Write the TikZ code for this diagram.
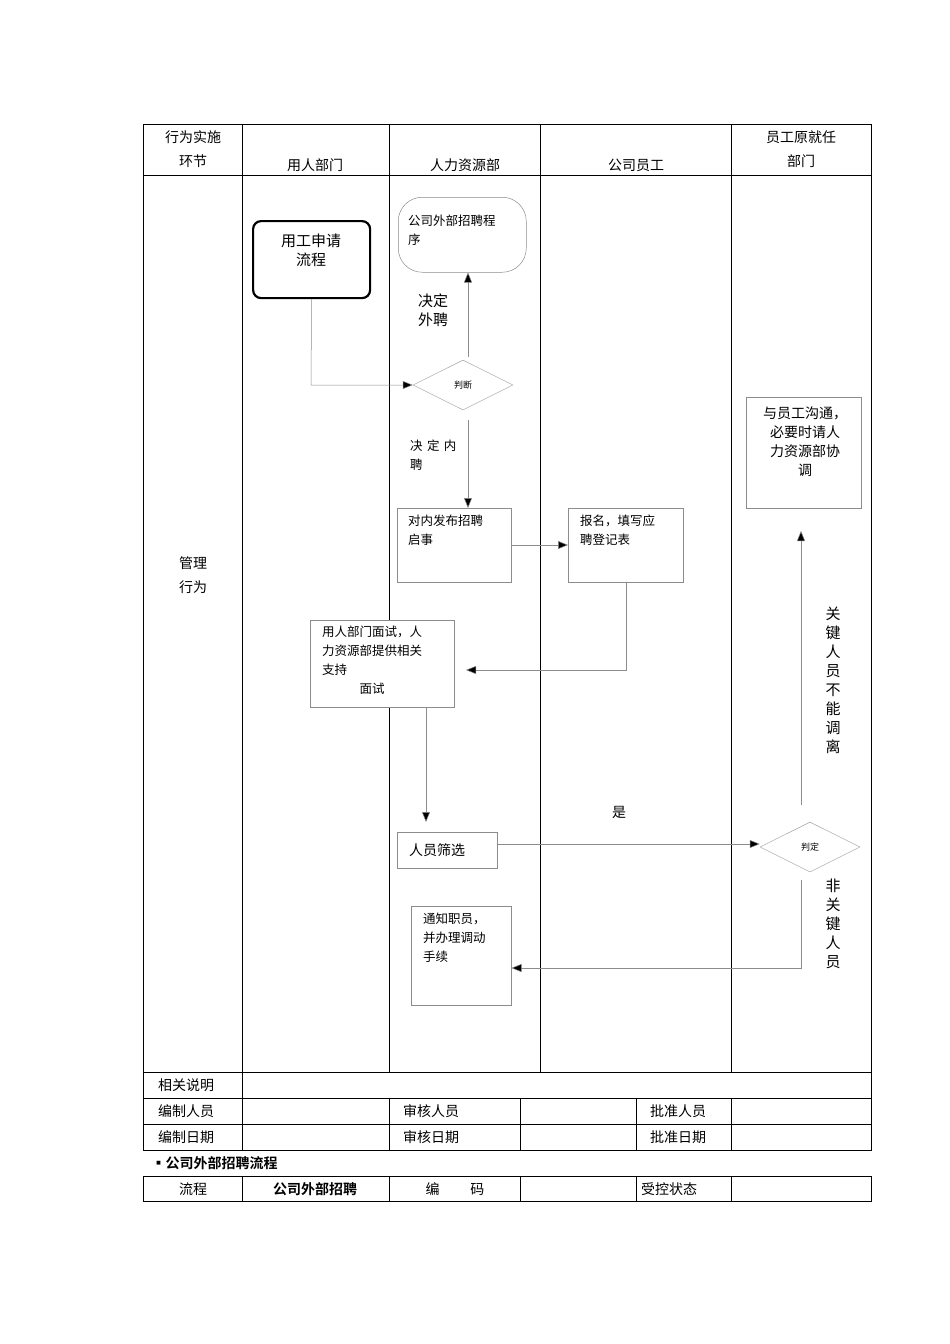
\documentclass[tikz,border=0pt]{standalone}
\usepackage{fontspec}
\setmainfont{Liberation Serif}
\newfontfamily\cjk{Noto Sans CJK SC}
\newfontfamily\cjkb{Noto Sans CJK SC Bold}
\usetikzlibrary{shapes.geometric,arrows.meta}
\begin{document}
\begin{tikzpicture}[x=1pt,y=-1pt,font=\cjk\fontsize{14}{18}\selectfont,
  grid/.style={black,line width=0.6pt},
  box/.style={draw=black!45,fill=white,line width=0.5pt,anchor=north west,inner sep=0pt},
  conn/.style={draw=black!45,line width=0.5pt},
  arr/.style={conn,-{Triangle[length=10pt,width=8pt,fill=black]}},
  txt/.style={align=left,anchor=north west,inner sep=0pt,font=\cjk\fontsize{12.5}{19}\selectfont},
  dia/.style={diamond,draw=black!35,fill=white,line width=0.5pt,minimum width=100pt,minimum height=50pt,inner sep=0pt,aspect=2,font=\cjk\fontsize{9}{10}\selectfont}]
\useasboundingbox (0,0) rectangle (950,1344);
% table
\draw[grid] (143,124) rectangle (871,1150);
\draw[grid] (143,175) -- (871,175);
\foreach \x in {242,389,540,731} \draw[grid] (\x,124) -- (\x,1072);
\draw[grid] (143,1072) -- (871,1072);
\draw[grid] (143,1098) -- (871,1098);
\draw[grid] (143,1124) -- (871,1124);
\foreach \x in {242,389,520,636,731} \draw[grid] (\x,1098) -- (\x,1150);
\draw[grid] (242,1072) -- (242,1098);
\node (h1) at (193,149) [align=center,font=\cjk\fontsize{14}{24}\selectfont] {行为实施\\环节};
\node (h2) at (315,165) {用人部门};
\node (h3) at (465,165) {人力资源部};
\node (h4) at (636,165) {公司员工};
\node (h5) at (801,149) [align=center,font=\cjk\fontsize{14}{24}\selectfont] {员工原就任\\部门};
\node (gl) at (193,575) [align=center,font=\cjk\fontsize{14}{24}\selectfont] {管理\\行为};
\node (r1) at (186,1085) {相关说明};
\node (r2) at (186,1111) {编制人员};
\node (r3) at (186,1137) {编制日期};
\node (r4) at (431,1111) {审核人员};
\node (r5) at (431,1137) {审核日期};
\node (r6) at (678,1111) {批准人员};
\node (r7) at (678,1137) {批准日期};
\node (tt) at (148,1163) [anchor=west,font=\cjkb\fontsize{14}{18}\selectfont] {▪公司外部招聘流程};
\draw[grid] (143,1176) rectangle (871,1201);
\foreach \x in {242,389,520,636,731} \draw[grid] (\x,1176) -- (\x,1201);
\node (f1) at (193,1189) {流程};
\node (f2) at (315,1189) [font=\cjkb\fontsize{14}{18}\selectfont] {公司外部招聘};
\node (f3) at (455,1189) {编\hspace{2.2em}码};
\node (f4) at (669,1189) {受控状态};
% flow nodes
\node (a) at (252,220) [draw=black,line width=2.2pt,rounded corners=8pt,anchor=north west,minimum width=117pt,minimum height=77pt,inner sep=0pt] {};
\node (at) at (311,250) [align=center,font=\cjk\fontsize{15}{19}\selectfont] {用工申请\\流程};
\node (b) at (398,197) [box,rounded corners=24pt,minimum width=128pt,minimum height=75pt] {};
\node (bt) at (408,215) [txt] {公司外部招聘程\\序};
\node (d1) at (463,385) [dia] {判断};
\node (c) at (397,508) [box,minimum width=114pt,minimum height=74pt] {};
\node (ct) at (408,515) [txt] {对内发布招聘\\启事};
\node (e) at (568,508) [box,minimum width=115pt,minimum height=74pt] {};
\node (et) at (580,515) [txt] {报名，填写应\\聘登记表};
\node (f) at (310,620) [box,minimum width=144pt,minimum height=87pt] {};
\node (ft) at (322,626) [txt] {用人部门面试，人\\力资源部提供相关\\支持\\\hspace{3em}面试};
\node (g) at (397,832) [box,minimum width=100pt,minimum height=36pt] {};
\node (gt) at (409,850) [anchor=west,inner sep=0pt,font=\cjk\fontsize{14}{18}\selectfont] {人员筛选};
\node (d2) at (810,847) [dia] {判定};
\node (h) at (746,397) [box,minimum width=115pt,minimum height=111pt] {};
\node (ht) at (805,442) [align=center,font=\cjk\fontsize{14}{19}\selectfont] {与员工沟通，\\必要时请人\\力资源部协\\调};
\node (k) at (411,906) [box,minimum width=100pt,minimum height=99pt] {};
\node (kt) at (423,913) [txt] {通知职员，\\并办理调动\\手续};
% connectors
\draw[arr] (a.south) -- (311,385) -- (d1.west);
\draw[arr] (468,357) -- (b.south -| 468,0);
\node (l1) at (433,310) [align=center,font=\cjk\fontsize{15}{19}\selectfont] {决定\\外聘};
\draw[arr] (468,420) -- (c.north -| 468,0);
\node (l2) at (410,440) [txt] {决\hspace{0.35em}定\hspace{0.35em}内\\聘};
\draw[arr] (c.east |- 0,545) -- (e.west |- 0,545);
\coordinate (p1) at (626,670);
\draw[arr] (e.south -| 626,0) -- (p1) -- (466,670);
\draw[arr] (f.south -| 426,0) -- (426,822);
\draw[arr] (g.east |- 0,844) -- (d2.west |- 0,844);
\node (l3) at (619,812) {是};
\draw[arr] (801,805) -- (801,531);
\node (l4) at (833,680) [align=center,font=\cjk\fontsize{15}{19}\selectfont] {关\\键\\人\\员\\不\\能\\调\\离};
\coordinate (p2) at (801,968);
\draw[arr] (801,880) -- (p2) -- (k.east |- 0,968);
\node (l5) at (833,924) [align=center,font=\cjk\fontsize{15}{19}\selectfont] {非\\关\\键\\人\\员};
\end{tikzpicture}
\end{document}
